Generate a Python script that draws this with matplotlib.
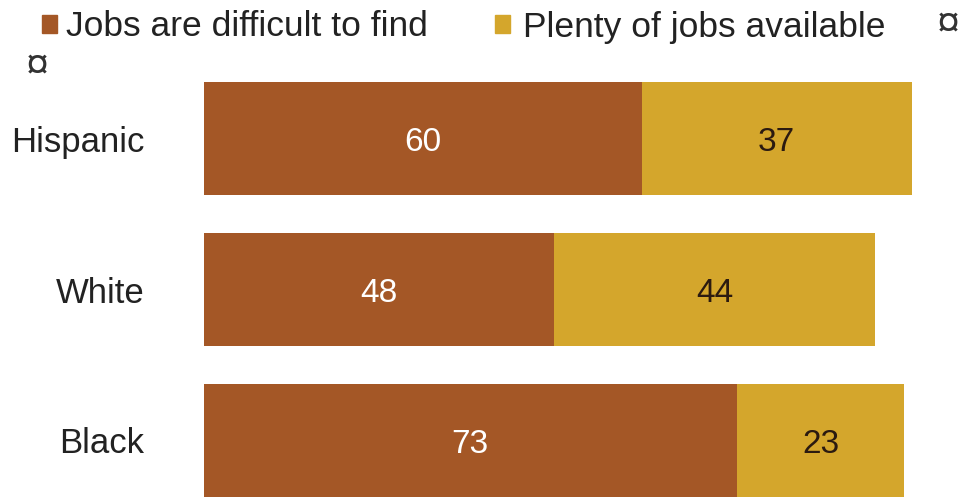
import matplotlib.pyplot as plt
from matplotlib.patches import Rectangle

plt.rcParams['font.family'] = ['Liberation Sans', 'DejaVu Sans']

groups = ['Hispanic', 'White', 'Black']
difficult = [60, 48, 73]
plenty = [37, 44, 23]
series_names = ['Jobs are difficult to find', 'Plenty of jobs available']

c_dark = '#A45726'
c_gold = '#D4A62C'
txt = '#222222'

W, H = 960, 498
fig = plt.figure(figsize=(W / 100, H / 100), dpi=100)
ax = fig.add_axes([0.2125, 0.002, 0.76, 0.833])

ypos = list(range(len(groups)))
ax.barh(ypos, difficult, height=0.75, color=c_dark)
ax.barh(ypos, plenty, left=difficult, height=0.75, color=c_gold)

for y, d, p in zip(ypos, difficult, plenty):
    ax.text(d / 2, y + 0.025, str(d), ha='center', va='center', color='white', fontsize=24)
    ax.text(d + p / 2, y + 0.025, str(p), ha='center', va='center', color='#2b1a10', fontsize=24)

ax.set_xlim(0, 100)
ax.set_ylim(2.375, -0.375)
ax.set_yticks(ypos)
ax.set_yticklabels(groups, fontsize=25, color=txt)
ax.tick_params(axis='y', length=0, pad=43)
ax.set_xticks([])
for s in ax.spines.values():
    s.set_visible(False)

# legend drawn by hand (pixel positions from the reference)
for (mx, tx), name, col in zip([(42, 66), (495, 523)], series_names, [c_dark, c_gold]):
    fig.patches.append(Rectangle((mx / W, 1 - 33 / H), 15 / W, 18 / H,
                                 transform=fig.transFigure, color=col))
    fig.text(tx / W, 1 - 36.5 / H, name, fontsize=25.5, color=txt,
             ha='left', va='baseline')

fig.text(948 / W, 1 - 24 / H, '¤', fontsize=30, color='#333333', ha='center', va='center')
fig.text(37 / W, 1 - 66 / H, '¤', fontsize=30, color='#333333', ha='center', va='center')

fig.savefig('out.png', dpi=100)
